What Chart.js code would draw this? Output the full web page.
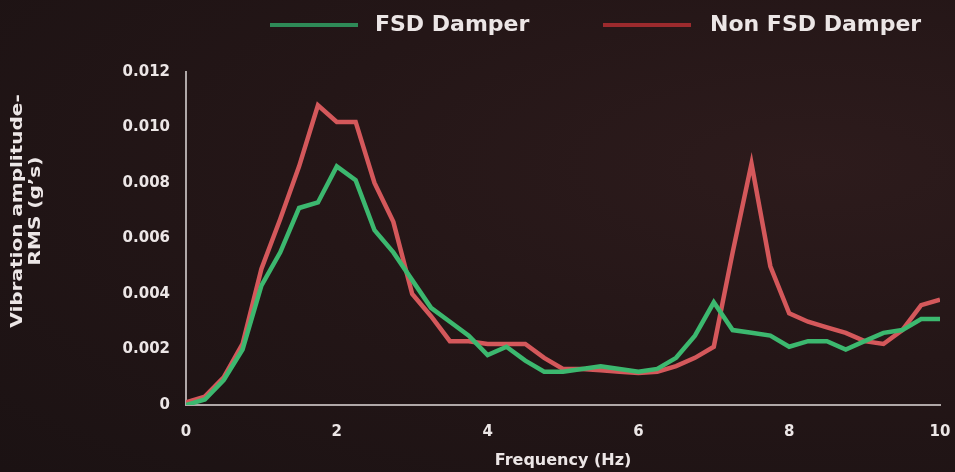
<!DOCTYPE html>
<html>
<head>
<meta charset="utf-8">
<script src="https://cdn.jsdelivr.net/npm/chart.js@4"></script>
<style>
  html, body { margin: 0; padding: 0; }
  body {
    width: 955px; height: 472px; overflow: hidden;
    background: radial-gradient(ellipse at 85% 35%, #2d1b1c 0%, #241617 45%, #1b1213 100%);
    font-family: 'DejaVu Sans', sans-serif;
  }
  #wrap { width: 955px; height: 472px; position: relative; }
  .lg-line { position: absolute; height: 4px; top: 23px; width: 88px; }
  .lg-text { position: absolute; top: 10px; font-size: 22px; font-weight: bold; color: #ece6e6; line-height: 28px; white-space: nowrap; }
</style>
</head>
<body>
<div id="wrap"><canvas id="myChart"></canvas></div>
<script>
// frequency samples (Hz)
const freqs = [0, 0.25, 0.5, 0.75, 1, 1.25, 1.5, 1.75, 2, 2.25, 2.5, 2.75, 3, 3.25, 3.5, 3.75,
  4, 4.25, 4.5, 4.75, 5, 5.25, 5.5, 5.75, 6, 6.25, 6.5, 6.75, 7, 7.25, 7.5, 7.75,
  8, 8.25, 8.5, 8.75, 9, 9.25, 9.5, 9.75, 10];

// vibration amplitude RMS (g's)
const fsdDamper = [0, 0.0002, 0.0009, 0.002, 0.0043, 0.0055, 0.0071, 0.0073, 0.0086, 0.0081,
  0.0063, 0.0055, 0.0045, 0.0035, 0.003, 0.0025, 0.0018, 0.0021, 0.0016, 0.0012,
  0.0012, 0.0013, 0.0014, 0.0013, 0.0012, 0.0013, 0.0017, 0.0025, 0.0037, 0.0027,
  0.0026, 0.0025, 0.0021, 0.0023, 0.0023, 0.002, 0.0023, 0.0026, 0.0027, 0.0031, 0.0031];

const nonFsdDamper = [0.0001, 0.0003, 0.001, 0.0022, 0.0049, 0.0067, 0.0086, 0.0108, 0.0102, 0.0102,
  0.008, 0.0066, 0.004, 0.0032, 0.0023, 0.0023, 0.0022, 0.0022, 0.0022, 0.0017,
  0.0013, 0.0013, 0.00125, 0.0012, 0.00115, 0.0012, 0.0014, 0.0017, 0.0021, 0.0055,
  0.0087, 0.005, 0.0033, 0.003, 0.0028, 0.0026, 0.0023, 0.0022, 0.0027, 0.0036, 0.0038];

const yTicks = [0, 0.002, 0.004, 0.006, 0.008, 0.01, 0.012];
const xTicks = [0, 2, 4, 6, 8, 10];

const green = '#3cb86f';
const red = '#d4585b';
const textColor = '#ece6e6';
const axisColor = '#b0a8a8';
const font = 'DejaVu Sans';

// y axis title, drawn a bit above the axis middle like the original
const yTitlePlugin = {
  id: 'yTitle',
  afterDraw(chart) {
    const ctx = chart.ctx;
    ctx.save();
    ctx.fillStyle = textColor;
    ctx.font = 'bold 16px "' + font + '"';
    ctx.textAlign = 'center';
    ctx.textBaseline = 'middle';
    ctx.translate(0, 211);
    ctx.rotate(-Math.PI / 2);
    ctx.scale(1.25, 1);
    ctx.fillText('Vibration amplitude-', 0, 18);
    ctx.fillText('RMS (g\u2019s)', 0, 36);
    ctx.restore();
  },
};

const canvas = document.getElementById('myChart');

const chart = new Chart(canvas, {
  type: 'line',
  data: {
    datasets: [
      {
        label: 'FSD Damper',
        data: freqs.map((f, i) => ({ x: f, y: fsdDamper[i] })),
        borderColor: green,
        backgroundColor: '#2e8a57',
        borderWidth: 4.5,
        pointRadius: 0,
        tension: 0,
        fill: false,
      },
      {
        label: 'Non FSD Damper',
        data: freqs.map((f, i) => ({ x: f, y: nonFsdDamper[i] })),
        borderColor: red,
        backgroundColor: '#9c2a2d',
        borderWidth: 4.5,
        pointRadius: 0,
        tension: 0,
        fill: false,
      },
    ],
  },
  options: {
    responsive: true,
    maintainAspectRatio: false,
    animation: false,
    layout: {
      padding: { left: 0, right: 0, top: 72, bottom: 2 },
    },
    plugins: {
      tooltip: { enabled: false },
      legend: { display: false },
    },
    scales: {
      x: {
        type: 'linear',
        min: 0,
        max: 10,
        afterBuildTicks: (axis) => { axis.ticks = xTicks.map((v) => ({ value: v })); },
        afterFit: (axis) => { axis.height = 65; axis.paddingRight = 15; },
        grid: { display: false, drawTicks: false },
        border: { color: axisColor, width: 2 },
        ticks: {
          color: textColor,
          font: { family: font, size: 15, weight: 'bold' },
          padding: 18,
          maxRotation: 0,
        },
        title: {
          display: true,
          text: 'Frequency (Hz)',
          color: textColor,
          font: { family: font, size: 16, weight: 'bold' },
          padding: { top: 9, bottom: 0 },
        },
      },
      y: {
        min: 0,
        max: 0.012,
        afterBuildTicks: (axis) => { axis.ticks = yTicks.map((v) => ({ value: v })); },
        afterFit: (axis) => { axis.width = 186; },
        grid: { display: false, drawTicks: false },
        border: { color: axisColor, width: 2 },
        ticks: {
          color: textColor,
          font: { family: font, size: 15, weight: 'bold' },
          padding: 16,
          callback: (v) => (v === 0 ? '0' : v.toFixed(3)),
        },
      },
    },
  },
  plugins: [yTitlePlugin],
});

// html legend built from the datasets
const legendPos = [{ line: 270, text: 375 }, { line: 603, text: 710 }];
const wrap = document.getElementById('wrap');
chart.data.datasets.forEach((ds, i) => {
  const line = document.createElement('div');
  line.className = 'lg-line';
  line.style.left = legendPos[i].line + 'px';
  line.style.background = ds.backgroundColor;
  wrap.appendChild(line);
  const txt = document.createElement('div');
  txt.className = 'lg-text';
  txt.style.left = legendPos[i].text + 'px';
  txt.textContent = ds.label;
  wrap.appendChild(txt);
});
</script>
</body>
</html>
